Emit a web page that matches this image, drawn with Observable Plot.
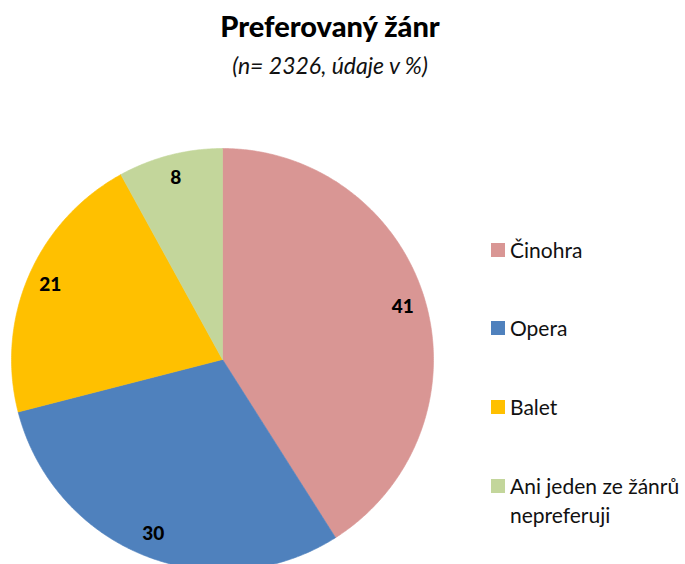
<!DOCTYPE html>
<html><head><meta charset="utf-8">
<script src="https://cdn.jsdelivr.net/npm/d3@7"></script>
<script src="https://cdn.jsdelivr.net/npm/@observablehq/plot@0.6"></script>
<style>
html,body{margin:0;padding:0;overflow:hidden;background:#fff;width:685px;height:564px;font-family:Lato,"Open Sans",sans-serif;color:#000;}
#title{position:absolute;left:0;width:660px;top:9px;text-align:center;font-weight:900;font-size:29px;line-height:34px;}
#subtitle{position:absolute;left:0;width:660px;top:50px;text-align:center;font-style:italic;font-size:23px;line-height:30px;color:#111;}
#chart{position:absolute;left:0;top:90px;}
#legend{position:absolute;left:0;top:0;z-index:2;}
.item{position:absolute;left:491px;font-size:21px;line-height:29px;white-space:nowrap;color:#111;}
.sw{position:absolute;left:0;top:8px;width:14px;height:14px;}
.lbl{position:absolute;left:19px;top:0;}
</style></head>
<body>
<div id="title">Preferovaný žánr</div>
<div id="subtitle">(n= 2326, údaje v %)</div>
<div id="chart"></div>
<div id="legend"></div>
<script>
const genres = ["Činohra", "Opera", "Balet", "Ani jeden ze žánrů nepreferuji"];
const legendLines = [["Činohra"], ["Opera"], ["Balet"], ["Ani jeden ze žánrů", "nepreferuji"]];
const values = [41, 30, 21, 8];
const colors = ["#D99694", "#4F81BD", "#FFC000", "#C3D69B"];

const total = d3.sum(values);
let acc = 0;
const slices = values.map((v, i) => {
  const a0 = acc / total * 2 * Math.PI;
  acc += v;
  const a1 = acc / total * 2 * Math.PI;
  return {genre: genres[i], value: v, a0, a1, mid: (a0 + a1) / 2};
});
const points = [];
for (const s of slices) {
  points.push({genre: s.genre, x: 0, y: 0});
  const n = Math.max(2, Math.ceil((s.a1 - s.a0) / (Math.PI / 360)));
  for (let k = 0; k <= n; k++) {
    const a = s.a0 + (s.a1 - s.a0) * k / n;
    points.push({genre: s.genre, x: Math.sin(a), y: Math.cos(a)});
  }
  points.push({genre: s.genre, x: 0, y: 0});
}
const labelR = 0.89;
const chart = Plot.plot({
  width: 685,
  height: 474,
  margin: 0,
  style: {background: "transparent", overflow: "visible"},
  x: {domain: [-1, 1], range: [11, 433], axis: null},
  y: {domain: [-1, 1], range: [480, 58], axis: null},
  color: {domain: genres, range: colors},
  marks: [
    Plot.line(points, {x: "x", y: "y", z: "genre", fill: "genre", stroke: "genre", strokeWidth: 0.6}),
    Plot.text(slices, {
      x: d => labelR * Math.sin(d.mid),
      y: d => labelR * Math.cos(d.mid),
      text: d => String(d.value),
      fontWeight: 900,
      fontSize: 19,
      fontFamily: "Lato, sans-serif",
      fill: "#000"
    })
  ]
});
document.getElementById("chart").appendChild(chart);

const legendTops = [235, 313, 392, 471];
const legend = document.getElementById("legend");
genres.forEach((g, i) => {
  const item = document.createElement("div");
  item.className = "item";
  item.style.top = legendTops[i] + "px";
  const sw = document.createElement("div");
  sw.className = "sw";
  sw.style.background = colors[i];
  const lbl = document.createElement("div");
  lbl.className = "lbl";
  lbl.innerHTML = legendLines[i].join("<br>");
  item.appendChild(sw);
  item.appendChild(lbl);
  legend.appendChild(item);
});
</script>
</body></html>
